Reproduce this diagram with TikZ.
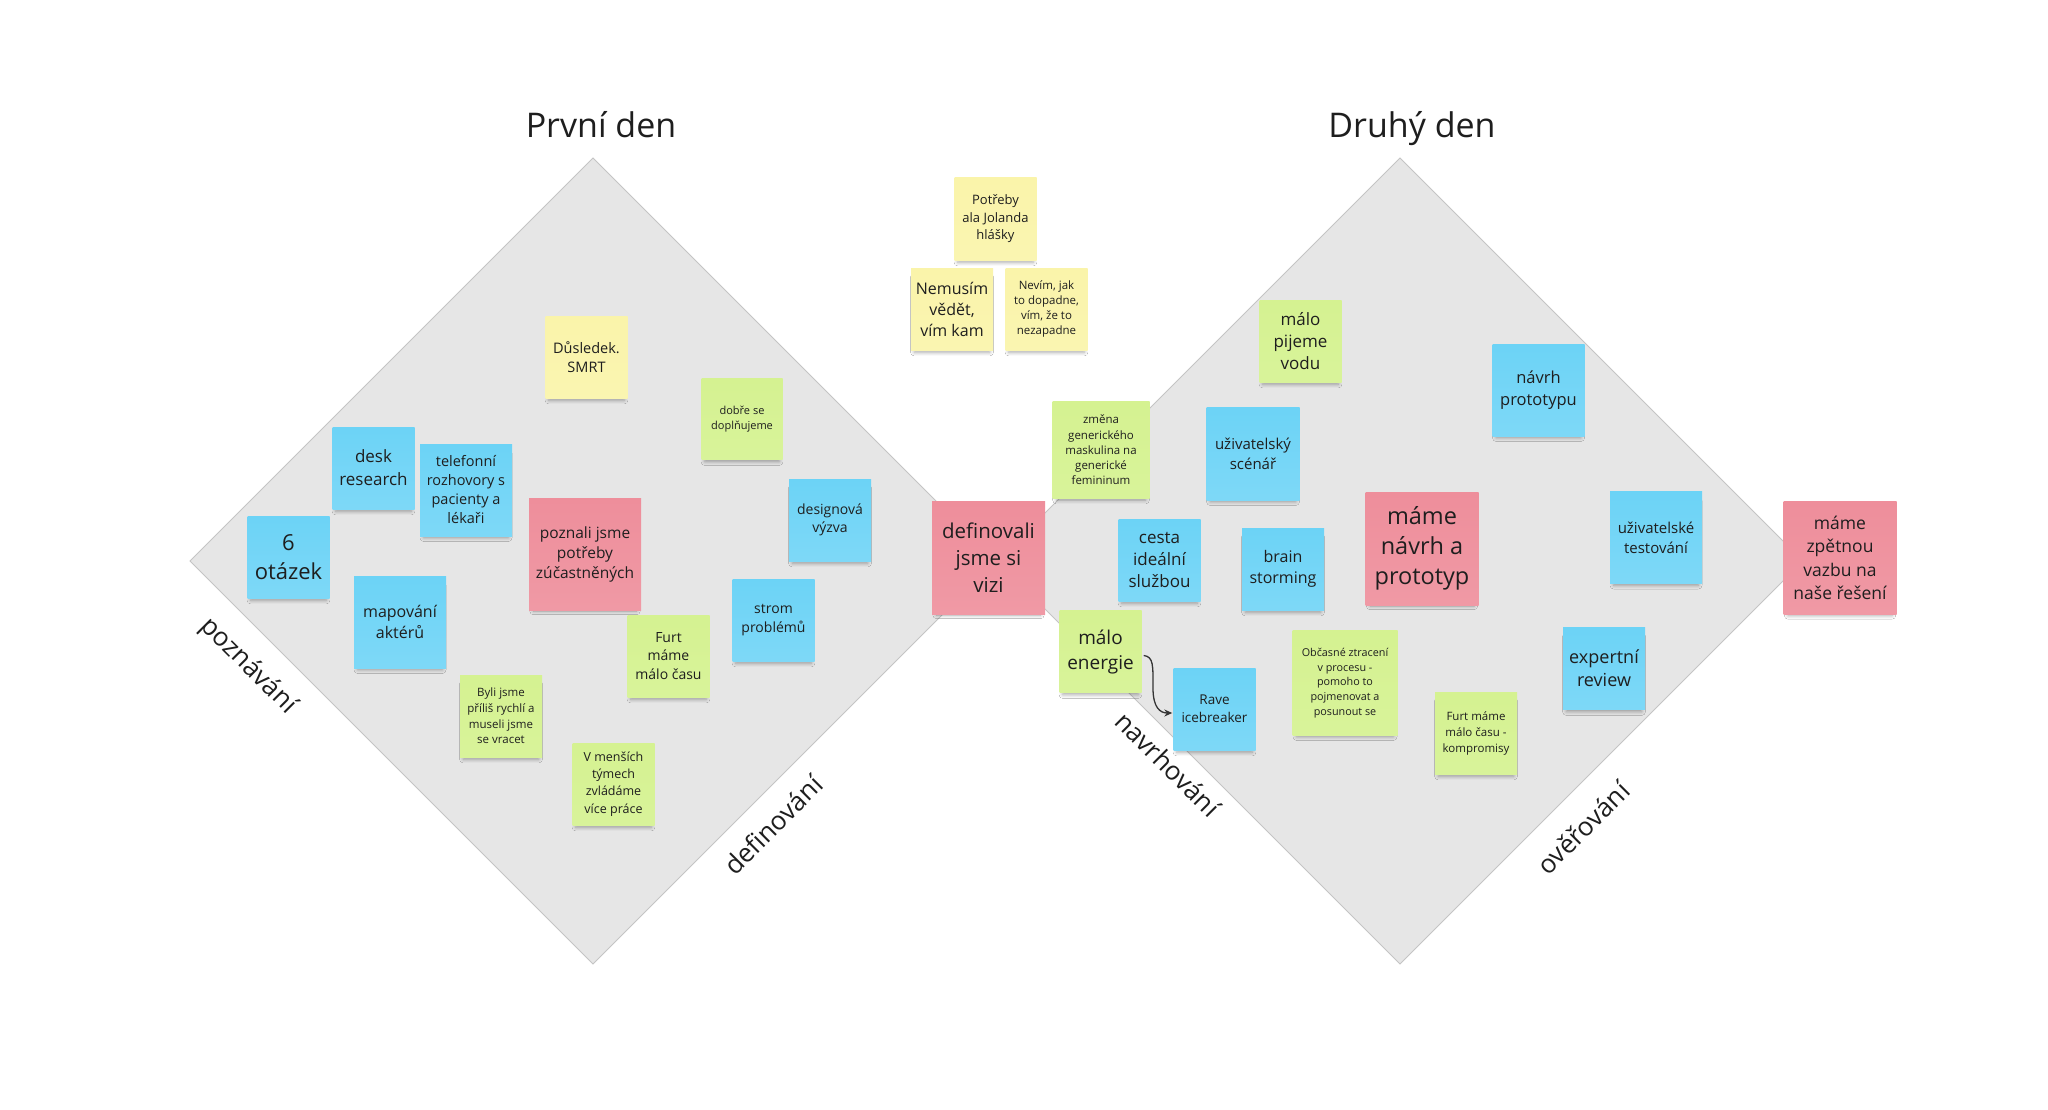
\documentclass[tikz,border=0pt]{standalone}
\usepackage{fontspec}
\setmainfont{Open Sans}
\usetikzlibrary{shadows.blur,arrows.meta}
\definecolor{sblue}{HTML}{6CD3F6}
\definecolor{spink}{HTML}{EE8E9B}
\definecolor{sgreen}{HTML}{D5F291}
\definecolor{syellow}{HTML}{FAF4AA}
\definecolor{dgray}{HTML}{E6E6E6}
\definecolor{dedge}{HTML}{C4C4C4}
\definecolor{ink}{HTML}{1E1E1E}
\newcommand\nfs[2]{\fontsize{#1}{#2}\selectfont}
\begin{document}
\begin{tikzpicture}[x=1pt,y=-1pt,
  note/.style={align=center, inner sep=1pt, text=ink, minimum width=#1, minimum height=#1,
     blur shadow={shadow xshift=0pt, shadow yshift=-6pt, shadow scale=0.92, shadow opacity=35, shadow blur radius=4pt}},
  note/.default=82pt,
  fs/.style 2 args={font=\nfs{#1}{#2}},
  bl/.style={top color=sblue, bottom color=sblue!88!white},
  pk/.style={top color=spink, bottom color=spink!90!white},
  gr/.style={top color=sgreen, bottom color=sgreen!92!white},
  yl/.style={top color=syellow, bottom color=syellow!92!white},
  diam/.style={fill=dgray, draw=dedge, line width=0.8pt},
  lab/.style={text=ink, font=\nfs{26}{30}},
  ttl/.style={text=ink, font=\nfs{34}{40}, anchor=base},
  conn/.style={draw=ink!90, line width=1.3pt, -{Stealth[length=8pt,width=7pt]}}
]
\useasboundingbox (0,0) rectangle (2048,1110);
\fill[white] (0,0) rectangle (2048,1110);

% diamonds
\path[diam] (593,158) -- (996,561) -- (593,964) -- (190,561) -- cycle;
\path[diam] (1400,158) -- (1803,561) -- (1400,964) -- (997,561) -- cycle;

% titles
\node[ttl] (t1) at (601,138) {První den};
\node[ttl] (t2) at (1412,138) {Druhý den};

% edge labels
\node[lab, rotate=-45] (lpoz) at (248,666) {poznávání};
\node[lab, rotate=45]  (ldef) at (773,825) {definování};
\node[lab, rotate=-45] (lnav) at (1168,764) {navrhování};
\node[lab, rotate=45]  (love) at (1583,828) {ověřování};

% first day
\node[note, bl, fs={22}{29}] (q6) at (288.5,557) {6\\otázek};
\node[note, bl, fs={17}{23}] (desk) at (373.5,468) {desk\\research};
\node[note=92pt, bl, fs={14.5}{19}] (tel) at (466,490) {telefonní\\rozhovory s\\pacienty a\\lékaři};
\node[note, yl, fs={14.5}{19}] (dus) at (586.5,357) {Důsledek.\\SMRT};
\node[note=112pt, pk, fs={15.5}{20}] (pozn) at (585,554) {poznali jsme\\potřeby\\zúčastněných};
\node[note=92pt, bl, fs={16}{21}] (map) at (400,622) {mapování\\aktérů};
\node[note=81pt, gr, fs={11}{15}] (dobre) at (742,419) {dobře se\\doplňujeme};
\node[note, bl, fs={14}{18.5}] (design) at (830,520) {designová\\výzva};
\node[note, bl, fs={14}{18.5}] (strom) at (773.5,620) {strom\\problémů};
\node[note, gr, fs={14}{18.5}] (furt1) at (668.5,656) {Furt\\máme\\málo času};
\node[note, gr, fs={11.5}{15.7}] (byli) at (501,716) {Byli jsme\\příliš rychlí a\\museli jsme\\se vracet};
\node[note, gr, fs={12.5}{17.4}] (vmen) at (613.5,784) {V menších\\týmech\\zvládáme\\více práce};
\node[note=113pt, pk, fs={20.5}{26.7}] (defin) at (988.5,557.5) {definovali\\jsme si\\vizi};

% middle
\node[note, yl, fs={13}{17.5}] (potreby) at (995.5,219) {Potřeby\\ala Jolanda\\hlášky};
\node[note, yl, fs={16}{21}] (nemusim) at (952,309) {Nemusím\\vědět,\\vím kam};
\node[note, yl, fs={11.5}{15.3}] (nevim) at (1046.5,309) {Nevím, jak\\to dopadne,\\vím, že to\\nezapadne};

% second day
\node[note, gr, fs={17}{22.4}] (pijeme) at (1300.5,341) {málo\\pijeme\\vodu};
\node[note=97pt, gr, fs={11.5}{15.2}] (zmena) at (1101,450) {změna\\generického\\maskulina na\\generické\\femininum};
\node[note=93pt, bl, fs={15}{20}] (scenar) at (1253,453.5) {uživatelský\\scénář};
\node[note, bl, fs={17}{22}] (cesta) at (1159.5,560) {cesta\\ideální\\službou};
\node[note, bl, fs={16}{20.7}] (brain) at (1283,569) {brain\\storming};
\node[note=113pt, pk, fs={23.5}{30}] (navrh) at (1422,548.5) {máme\\návrh a\\prototyp};
\node[note=92pt, bl, fs={16.5}{22}] (navrhp) at (1538.5,390) {návrh\\prototypu};
\node[note=92pt, bl, fs={15}{20}] (test) at (1656,537.5) {uživatelské\\testování};
\node[note=113pt, pk, fs={17.5}{23.3}] (zpet) at (1840,558) {máme\\zpětnou\\vazbu na\\naše řešení};
\node[note, bl, fs={18}{23.3}] (expert) at (1604,668.5) {expertní\\review};
\node[note, gr, fs={11.5}{16}] (furt2) at (1476,733) {Furt máme\\málo času -\\kompromisy};
\node[note=105pt, gr, fs={10.8}{14.6}] (obcas) at (1345,683) {Občasné ztracení\\v procesu -\\pomoho to\\pojmenovat a\\posunout se};
\node[note, bl, fs={13.5}{17.7}] (rave) at (1214.5,709) {Rave\\icebreaker};
\node[note, gr, fs={19}{25}] (energie) at (1100.5,651.5) {málo\\energie};

% connector
\draw[conn] ([xshift=2pt,yshift=-4pt]energie.east) .. controls +(10,1) and +(0,-22) .. (1153,688)
  .. controls +(0,20) and +(-12,0) .. ([xshift=-1pt,yshift=-4pt]rave.west);
\end{tikzpicture}
\end{document}
